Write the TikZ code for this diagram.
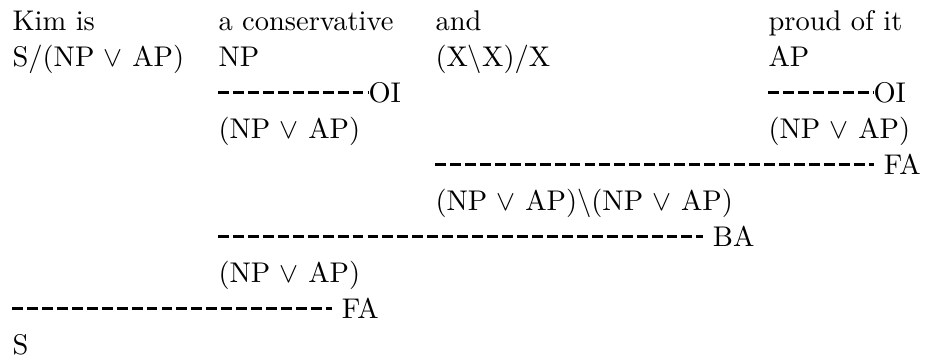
\documentclass[tikz,border=0pt]{standalone}
\usepackage{tikz}
\usetikzlibrary{calc}
\tikzset{
  cat/.style={anchor=base west,inner sep=0pt,font=\fontsize{10.95}{13.6}\selectfont},
  rulelbl/.style={cat,inner xsep=3.6pt},
  drule/.style={line width=0.8pt,dash pattern=on 4.2pt off 1.55pt},
}

\begin{document}
\begin{tikzpicture}[x=0.3846pt,y=-0.3846pt]
  \useasboundingbox (0,0) rectangle (928,358);

  % words and lexical categories
  \node[cat] (w1) at (12,30.5) {Kim is};
  \node[cat] (w2) at (218,30.5) {a conservative};
  \node[cat] (w3) at (435,30.5) {and};
  \node[cat] (w4) at (768,30.5) {proud of it};
  \node[cat] (c1) at (12,66.5) {S/(NP $\vee$ AP)};
  \node[cat] (c2) at (218,66.5) {NP};
  \node[cat] (c3) at (435,66.5) {(X$\backslash$X)/X};
  \node[cat] (c4) at (768,66.5) {AP};

  % OI steps
  \node[cat] (oi2) at (368,102.5) {OI};
  \node[cat] (oi4) at (873,102.5) {OI};
  \node[cat] (c2r) at (218,138.5) {(NP $\vee$ AP)};
  \node[cat] (c4r) at (768,138.5) {(NP $\vee$ AP)};

  % combination
  \node[rulelbl] (fa1) at (874,174.5) {FA};
  \node[cat] (conj) at (435,210.5) {(NP $\vee$ AP)$\backslash$(NP $\vee$ AP)};
  \node[rulelbl] (ba) at (703,246.5) {BA};
  \node[cat] (np) at (218,282.5) {(NP $\vee$ AP)};
  \node[rulelbl] (fa2) at (332,318.5) {FA};
  \node[cat] (s) at (12,354.5) {S};

  \coordinate (r2) at (218,92.5);
  \coordinate (r4) at (768,92.5);
  \coordinate (r5) at (435,164.5);
  \coordinate (r7) at (218,236.5);
  \coordinate (r9) at (12,308.5);
  \draw[drule] (r2) -- (r2 -| oi2.west);
  \draw[drule] (r4) -- (r4 -| oi4.west);
  \draw[drule] (r5) -- (r5 -| fa1.west);
  \draw[drule] (r7) -- (r7 -| ba.west);
  \draw[drule] (r9) -- (r9 -| fa2.west);
\end{tikzpicture}
\end{document}
